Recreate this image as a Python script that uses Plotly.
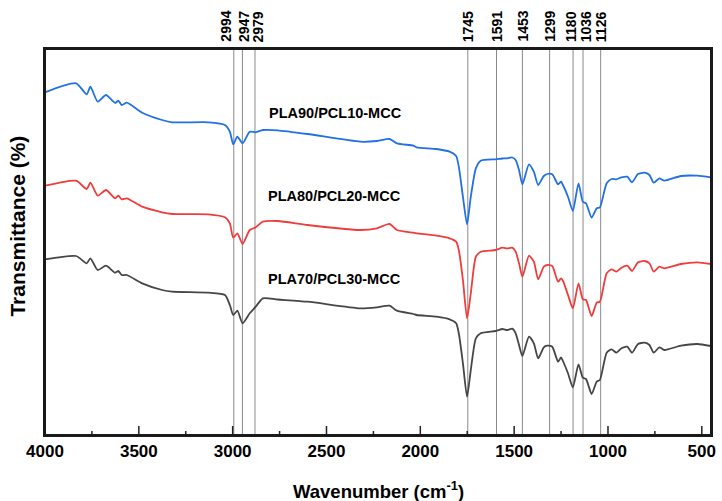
import plotly.graph_objects as go

# Wavenumber grid (cm-1)
wavenumber = [4000, 3834, 3778, 3758, 3719, 3675, 3626, 3609, 3591, 3564, 3482, 3376, 3323, 3129,
              3041, 3015, 2997, 2975, 2947, 2909, 2877, 2839, 2760, 2601, 2320, 2231, 2164, 2125,
              2037, 2020, 1914, 1844, 1809, 1795, 1773, 1751, 1731, 1704, 1678, 1598, 1563, 1536,
              1510, 1492, 1474, 1456, 1421, 1395, 1372, 1342, 1324, 1297, 1266, 1250, 1240, 1213,
              1187, 1157, 1134, 1117, 1087, 1060, 1043, 1007, 981, 955, 928, 897, 872, 840, 805,
              779, 756, 726, 700, 611, 524, 451]

# Transmittance (offset, arbitrary units)
pla90 = [342.7, 351.7, 340.7, 348.3, 333.3, 340, 332, 334.3, 330, 332.3, 322.3, 315, 312.7, 312.7,
         310, 303.3, 290.7, 298.3, 291.7, 303.3, 302.7, 305, 304.7, 301, 293.3, 294, 296, 291.7,
         289.3, 287.7, 286, 283.3, 279, 268.3, 238.3, 210.7, 238.3, 266.7, 274.3, 275.7, 276.5, 276.7,
         277.5, 275, 265, 250.7, 270.7, 263.3, 250, 259, 261, 260.7, 250.7, 253.3, 250, 238.3,
         224, 251.7, 233.3, 231.7, 217.3, 226.7, 227.7, 251.7, 256, 255.7, 257.7, 258.3, 252.7, 261, 262.3,
         260, 252.3, 256.7, 254.3, 259, 259.3, 257.7]

pla80 = [249.3, 254.3, 246, 252.3, 239.3, 245, 236.7, 239.3, 235.7, 236.7, 228.3, 222.7, 221, 220.7,
         217.7, 211.7, 197.3, 201.7, 191, 205, 207.7, 213.3, 214, 210, 205, 206.7, 211, 205,
         202.3, 201.7, 199.3, 196.7, 193.3, 185, 155, 116.7, 141.7, 178.3, 183.3, 185, 187.3, 186.7,
         187.3, 183.3, 171.7, 158.3, 179.3, 173.3, 155.7, 168.3, 170, 169, 153.3, 156.7, 154.3, 140,
         126.7, 151.7, 135.7, 135, 119, 132.3, 133.3, 161.7, 165.7, 163.3, 167.3, 169.3, 164, 172.7, 174,
         171.7, 163.3, 168.3, 166.7, 171, 172.7, 171]

pla70 = [175.7, 179, 171.7, 176.7, 165, 169.3, 162.3, 164, 160, 160, 151.7, 145, 143.3, 142.3,
         140, 130, 120, 124.3, 111.7, 121.7, 128.3, 136.7, 135.5, 133.3, 126.7, 127.7, 129.3, 124.3,
         121, 120, 118.3, 115.7, 111.7, 101.7, 71.7, 38.3, 65, 96.7, 101.7, 104, 106, 105,
         106.3, 101.7, 90, 79, 98.3, 91.7, 76.7, 87.7, 89.3, 88.3, 73.3, 77.7, 74, 61.7,
         47.7, 70.7, 57.3, 56, 41, 53.3, 55, 82.3, 85.7, 82.3, 86.7, 88.3, 82.3, 91, 92.3,
         90, 82.3, 87.7, 85, 89.3, 91, 89]

series_names = ["PLA90/PCL10-MCC", "PLA80/PCL20-MCC", "PLA70/PCL30-MCC"]

# x tick values and labels
x_tickvals = [4000, 3500, 3000, 2500, 2000, 1500, 1000, 500]
x_ticktext = ["4000", "3500", "3000", "2500", "2000", "1500", "1000", "500"]
x_minor_tickvals = [3750, 3250, 2750, 2250, 1750, 1250, 750]

# Marker lines (positions as drawn) and their labels
peak_lines = [2994, 2948, 2881, 1747, 1594, 1456, 1311, 1186, 1133, 1039]
peak_labels = ["2994", "2947", "2979", "1745", "1591", "1453", "1299", "1180", "1036", "1126"]
peak_label_pos = [3040, 2942, 2865, 1747, 1594, 1458, 1313, 1200, 1118, 1039]

# Series label anchor points
name_x = [2816, 2820, 2825]
name_y = [321.7, 239, 155.7]

X_RANGE = [4000, 451]
Y_RANGE = [0, 386]

colors = ["#2170e4", "#f03c3c", "#464646"]
FONT = "Liberation Sans, Arial, sans-serif"

fig = go.Figure()

# peak marker lines (drawn through the x axis scale)
vx, vy = [], []
for x in peak_lines:
    vx += [x, x, None]
    vy += [Y_RANGE[0], Y_RANGE[1], None]
fig.add_trace(go.Scatter(x=vx, y=vy, mode="lines", hoverinfo="skip",
                         line=dict(color="#8a8a8a", width=1)))

for name, ys, c in zip(series_names, [pla90, pla80, pla70], colors):
    fig.add_trace(go.Scatter(x=wavenumber, y=ys, mode="lines", name=name,
                             line=dict(color=c, width=1.8, shape="spline", smoothing=0.6)))

# inside tick marks on the bottom axis, built from the tick arrays
tx, ty = [], []
for t in x_tickvals:
    tx += [t, t, None]
    ty += [Y_RANGE[0], Y_RANGE[0] + 9, None]
for t in x_minor_tickvals:
    tx += [t, t, None]
    ty += [Y_RANGE[0], Y_RANGE[0] + 4, None]
fig.add_trace(go.Scatter(x=tx, y=ty, mode="lines", hoverinfo="skip", cliponaxis=False,
                         line=dict(color="#222", width=1.5)))

# plot frame along the axis limits
fig.add_trace(go.Scatter(x=[X_RANGE[0], X_RANGE[1], X_RANGE[1], X_RANGE[0], X_RANGE[0]],
                         y=[Y_RANGE[0], Y_RANGE[0], Y_RANGE[1], Y_RANGE[1], Y_RANGE[0]],
                         mode="lines", hoverinfo="skip", cliponaxis=False,
                         line=dict(color="#1a1a1a", width=2)))

annotations = []
for txt, px in zip(peak_labels, peak_label_pos):
    annotations.append(dict(x=px, y=1, xref="x", yref="paper", text="<b>" + txt + "</b>", showarrow=False,
                            textangle=-90, xanchor="center", yanchor="bottom", yshift=5,
                            font=dict(family=FONT, size=14, color="black")))
for name, nx, ny in zip(series_names, name_x, name_y):
    annotations.append(dict(x=nx, y=ny, xref="x", yref="y", text="<b>" + name + "</b>", showarrow=False,
                            xanchor="left", yanchor="middle",
                            font=dict(family=FONT, size=14.5, color="black")))
annotations.append(dict(x=0.5, y=0, xref="paper", yref="paper", text="<b>Wavenumber (cm<sup>-1</sup>)</b>",
                        showarrow=False, xanchor="center", yanchor="top", yshift=-41,
                        font=dict(family=FONT, size=18.5, color="black")))
annotations.append(dict(x=0, y=0.54, xref="paper", yref="paper", text="<b>Transmittance (%)</b>",
                        showarrow=False, xanchor="center", yanchor="middle", xshift=-27, textangle=-90,
                        font=dict(family=FONT, size=21, color="black")))

fig.update_layout(
    width=722, height=501, autosize=False,
    margin=dict(l=45, r=6, t=49, b=66),
    plot_bgcolor="white", paper_bgcolor="white",
    showlegend=False,
    annotations=annotations,
    font=dict(family=FONT, color="black"),
    xaxis=dict(range=X_RANGE, tickmode="array", tickvals=x_tickvals,
               ticktext=["<b>" + t + "</b>" for t in x_ticktext], ticks="",
               showline=True, linecolor="#1a1a1a", linewidth=2, mirror=True, showgrid=False, zeroline=False,
               tickfont=dict(family=FONT, size=17, color="black")),
    yaxis=dict(range=Y_RANGE, showticklabels=False, showline=True, linecolor="#1a1a1a",
               linewidth=2, mirror=True, showgrid=False, zeroline=False),
)

fig.write_html("out.html", config={"displayModeBar": False},
               post_script="document.body.style.margin='0';document.body.style.overflow='hidden';")
